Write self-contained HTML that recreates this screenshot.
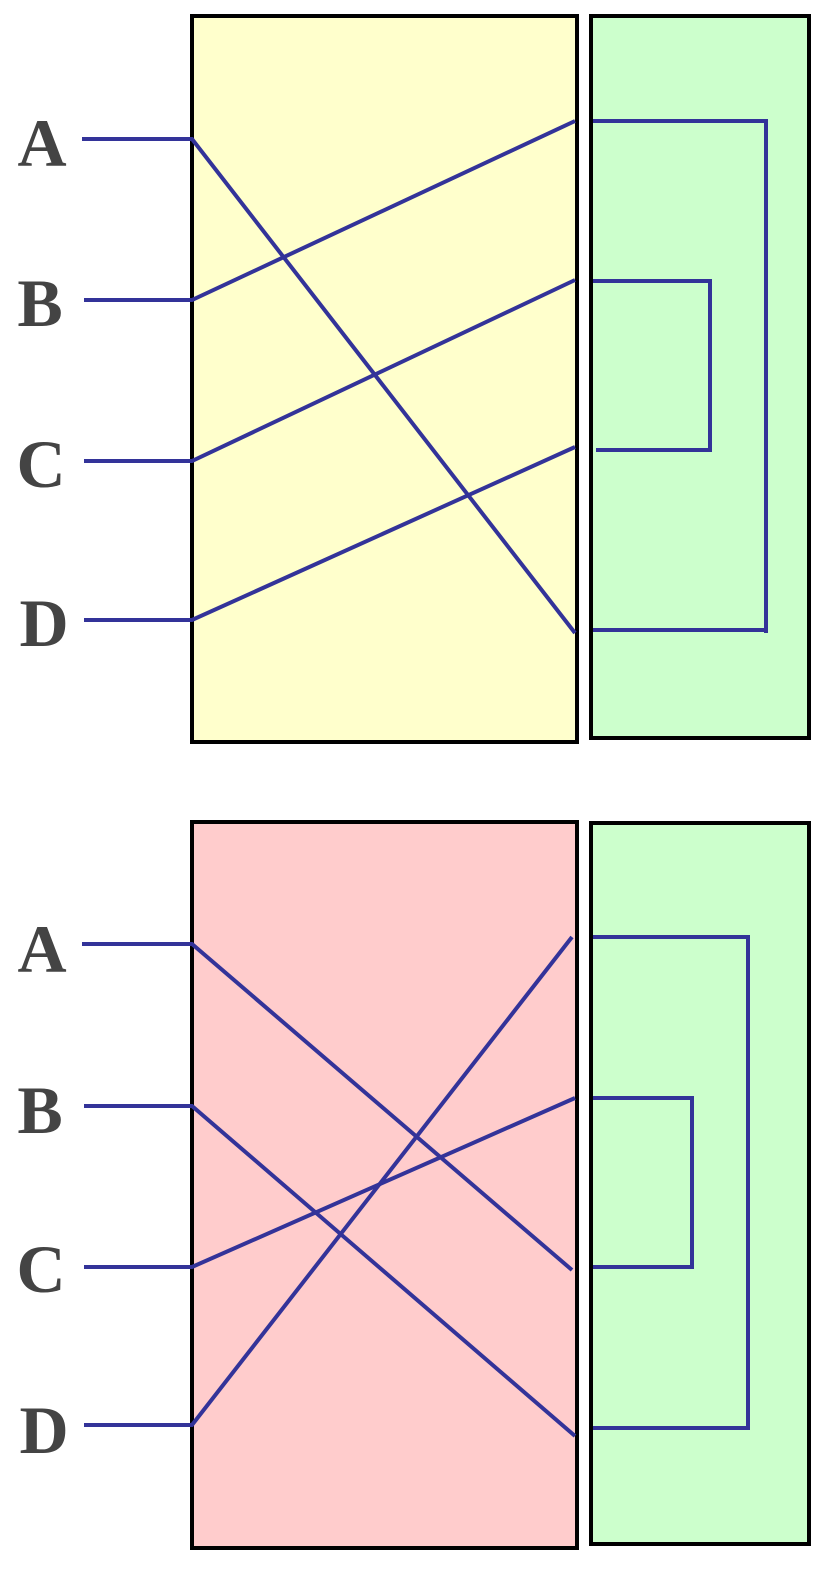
<!DOCTYPE html>
<html><head><style>html,body{margin:0;padding:0;background:#fff}svg{display:block}</style></head>
<body>
<svg width="828" height="1572" viewBox="0 0 828 1572" xmlns="http://www.w3.org/2000/svg">
<g stroke="#000" stroke-width="4">
<rect x="192" y="16" width="385" height="726" fill="#ffffcc"/>
<rect x="591" y="16" width="218" height="722" fill="#ccffcc"/>
<rect x="192" y="822" width="385" height="726" fill="#ffcccc"/>
<rect x="591" y="823" width="218" height="721" fill="#ccffcc"/>
</g>
<g stroke="#333399" stroke-width="4" fill="none" stroke-linejoin="miter">
<polyline points="82,139 192,139 575,633"/>
<polyline points="84,300 192,300 575,121"/>
<polyline points="84,461 192,461 575,280"/>
<polyline points="84,620 192,620 575,447"/>
<polyline points="593,121 766,121 766,633"/>
<polyline points="593,630 766,630"/>
<polyline points="593,281 710,281 710,450 596,450"/>
<polyline points="82,944 192,944 572,1270"/>
<polyline points="84,1106 192,1106 575,1436"/>
<polyline points="84,1267 192,1267 575,1098"/>
<polyline points="84,1425 192,1425 572,937"/>
<polyline points="593,937 748,937 748,1428 593,1428"/>
<polyline points="593,1098 692,1098 692,1267 593,1267"/>
</g>
<g font-family="Liberation Serif, serif" font-weight="bold" font-size="68" fill="#444" text-anchor="middle">
<text x="42" y="166">A</text>
<text x="40" y="326">B</text>
<text x="41" y="487">C</text>
<text x="44" y="646">D</text>
<text x="42" y="972">A</text>
<text x="40" y="1133">B</text>
<text x="41" y="1292">C</text>
<text x="44" y="1453">D</text>
</g>
</svg>
</body></html>
